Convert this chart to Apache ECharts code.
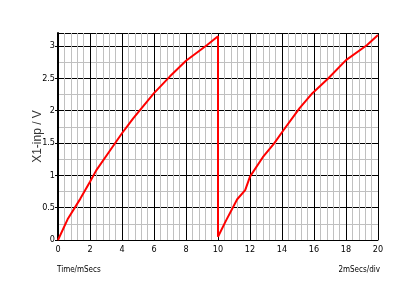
<!DOCTYPE html>
<html>
<head>
<meta charset="utf-8">
<script src="https://cdn.jsdelivr.net/npm/echarts@6/dist/echarts.min.js"></script>
<style>html,body{margin:0;padding:0;background:#fff}#c{width:400px;height:300px}</style>
</head>
<body>
<div id="c"></div>
<script>
// Data
const timeMs = [0, 0.6, 1.4, 2.0, 2.4, 3.1, 4.0, 4.7, 6.0, 7.0, 8.0, 9.3, 10.0, 10.0, 10.5, 11.2, 11.7, 12.0, 12.8, 13.5, 14.1, 15.1, 15.9, 16.9, 18.0, 19.3, 20.0];
const volts  = [0, 0.32, 0.64, 0.9, 1.08, 1.33, 1.65, 1.88, 2.27, 2.53, 2.77, 3.01, 3.15, 0.05, 0.3, 0.63, 0.77, 0.98, 1.28, 1.49, 1.7, 2.04, 2.27, 2.5, 2.78, 3.01, 3.17];
const yAxisTitle = 'X1-inp / V';
const xAxisTitle = 'Time/mSecs';
const scaleNote = '2mSecs/div';

const chart = echarts.init(document.getElementById('c'), null, {renderer: 'canvas'});
const pts = timeMs.map((t, i) => [t, volts[i]]);
const labelFont = {fontFamily: 'DejaVu Sans Condensed', fontSize: 9, color: '#000'};
chart.setOption({
  animation: false,
  backgroundColor: '#fff',
  grid: {left: 58, right: 22, top: 33, bottom: 60, containLabel: false},
  xAxis: {
    type: 'value', min: 0, max: 20, interval: 2,
    axisLine: {show: true, lineStyle: {color: '#000', width: 1}},
    axisTick: {show: false},
    axisLabel: Object.assign({margin: 5}, labelFont),
    splitLine: {show: true, lineStyle: {color: '#000', width: 1}},
    minorTick: {show: false, splitNumber: 5},
    minorSplitLine: {show: true, lineStyle: {color: '#c0c0c0', width: 1}}
  },
  yAxis: {
    type: 'value', min: 0, max: 3.2, interval: 0.5,
    name: yAxisTitle, nameLocation: 'middle', nameGap: 14, nameRotate: 90,
    nameMoveOverlap: false,
    nameTextStyle: {fontFamily: 'Liberation Sans', fontSize: 12, color: '#333'},
    axisLine: {show: true, lineStyle: {color: '#000', width: 2}},
    axisTick: {show: true, length: 3, lineStyle: {color: '#000'}},
    axisLabel: Object.assign({margin: 3, showMaxLabel: false}, labelFont),
    splitLine: {show: true, lineStyle: {color: '#000', width: 1}},
    minorTick: {show: false, splitNumber: 2},
    minorSplitLine: {show: true, lineStyle: {color: '#c0c0c0', width: 1}}
  },
  graphic: [
    {type: 'text', left: 57, top: 266, style: {text: xAxisTitle, font: '8px "DejaVu Sans Condensed"', fill: '#000'}},
    {type: 'text', right: 20, top: 266, style: {text: scaleNote, font: '8px "DejaVu Sans Condensed"', fill: '#000'}}
  ],
  series: [{
    type: 'line', data: pts, showSymbol: false, smooth: false,
    lineStyle: {color: '#ff0000', width: 2}, clip: true
  }]
});
</script>
</body>
</html>
